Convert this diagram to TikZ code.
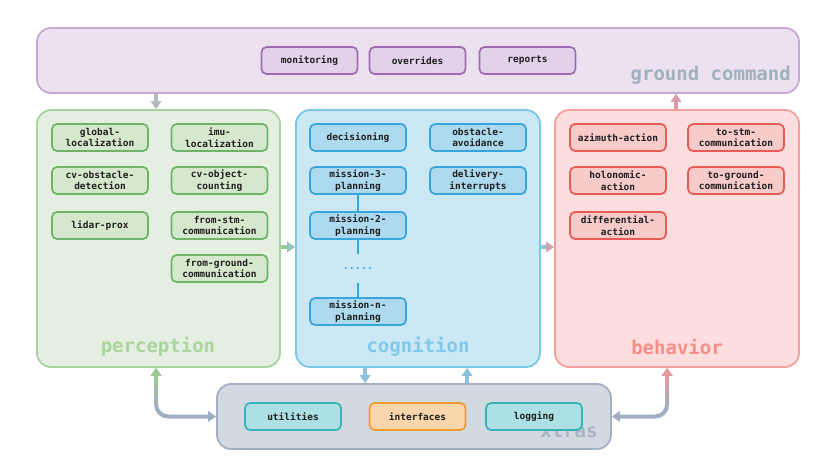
\documentclass[tikz,border=0pt]{standalone}
\usepackage{fontspec}
\newfontfamily\monof{DejaVu Sans Mono Bold}
\usetikzlibrary{arrows.meta,calc}
\definecolor{txt}{HTML}{1E1E1E}
\definecolor{gcfill}{HTML}{ECE2EF}\definecolor{gcdraw}{HTML}{C7A8D5}
\definecolor{gcifill}{HTML}{E2D2E9}\definecolor{gcidraw}{HTML}{9E6BB3}
\definecolor{gclab}{HTML}{A0B0BD}
\definecolor{pfill}{HTML}{E5EFE1}\definecolor{pdraw}{HTML}{A8D3A0}
\definecolor{pifill}{HTML}{D5E8CE}\definecolor{pidraw}{HTML}{6DB565}
\definecolor{plab}{HTML}{ABD59E}
\definecolor{cfill}{HTML}{CCE8F4}\definecolor{cdraw}{HTML}{7AC6EA}
\definecolor{cifill}{HTML}{AEDAEF}\definecolor{cidraw}{HTML}{38A5DC}
\definecolor{clab}{HTML}{80C9EC}
\definecolor{bfill}{HTML}{FBDEDD}\definecolor{bdraw}{HTML}{F2A09C}
\definecolor{bifill}{HTML}{F7CBC9}\definecolor{bidraw}{HTML}{E85A54}
\definecolor{blab}{HTML}{F38F88}
\definecolor{xfill}{HTML}{D1D9E1}\definecolor{xdraw}{HTML}{A3B1C2}
\definecolor{xlab}{HTML}{A9B5C4}
\definecolor{tfill}{HTML}{ADE0E4}\definecolor{tdraw}{HTML}{38B1B7}
\definecolor{ofill}{HTML}{FAD6AD}\definecolor{odraw}{HTML}{F39A2F}
\definecolor{agray}{HTML}{A0B0C2}
\definecolor{agreen}{HTML}{9CCB92}
\definecolor{apink}{HTML}{E89A9E}
\definecolor{ablue}{HTML}{8CC2DA}
\definecolor{atop}{HTML}{B4B9BF}
\definecolor{abeh}{HTML}{D89AA6}
\tikzset{mytip/.tip={Triangle[width=10.5pt,length=8pt]}}
\begin{document}
\begin{tikzpicture}[x=1pt,y=-1pt,
  panel/.style={draw, rounded corners=14pt, line width=1.8pt, inner sep=0pt},
  item/.style={draw, rounded corners=5pt, line width=1.7pt, minimum width=96pt,
    minimum height=27pt, inner sep=0pt, align=center, text=txt,
    font=\monof\fontsize{9.5}{11.5}\selectfont},
  gcitem/.style={item, fill=gcifill, draw=gcidraw},
  pitem/.style={item, fill=pifill, draw=pidraw},
  citem/.style={item, fill=cifill, draw=cidraw},
  bitem/.style={item, fill=bifill, draw=bidraw},
  titem/.style={item, fill=tfill, draw=tdraw},
  oitem/.style={item, fill=ofill, draw=odraw},
  plabel/.style={font=\monof\fontsize{19}{19}\selectfont, inner sep=0pt},
  flow/.style={line width=4pt, -{mytip}},
  biflow/.style={line width=4pt, {mytip}-{mytip}, rounded corners=12pt},
  link/.style={draw=cidraw, line width=1.7pt}
]
\useasboundingbox (0,0) rectangle (829,472);
\fill[white] (0,0) rectangle (829,472);

% panels
\node[panel, fill=gcfill, draw=gcdraw, minimum width=762pt, minimum height=65pt] (gc) at (418,60.5) {};
\node[panel, fill=pfill, draw=pdraw, minimum width=243pt, minimum height=257pt] (perc) at (158.5,238.5) {};
\node[panel, fill=cfill, draw=cdraw, minimum width=244pt, minimum height=257pt] (cog) at (418,238.5) {};
\node[panel, fill=bfill, draw=bdraw, minimum width=244pt, minimum height=257pt] (beh) at (677,238.5) {};
\node[panel, fill=xfill, draw=xdraw, minimum width=394pt, minimum height=65pt] (xtras) at (414,416.5) {};

% panel labels
\node[plabel, text=gclab, anchor=east] (gclabel) at (791,75) {ground command};
\node[plabel, text=plab] (plabel1) at (158,347) {perception};
\node[plabel, text=clab] (clabel1) at (418,347) {cognition};
\node[plabel, text=blab] (blabel1) at (677,347) {behavior};
\node[plabel, text=xlab] (xlabel1) at (569,431) {xtras};

% ground command items
\node[gcitem] (mon) at (309.5,60.5) {monitoring};
\node[gcitem] (ovr) at (417.5,60.5) {overrides};
\node[gcitem] (rep) at (527.5,60.5) {reports};

% perception items
\node[pitem] (gloc) at (100,137.5) {global-\\localization};
\node[pitem] (iloc) at (219.5,137.5) {imu-\\localization};
\node[pitem] (cvod) at (100,180.5) {cv-obstacle-\\detection};
\node[pitem] (cvoc) at (219.5,180.5) {cv-object-\\counting};
\node[pitem] (lid) at (100,225.5) {lidar-prox};
\node[pitem] (fstm) at (219.5,225.5) {from-stm-\\communication};
\node[pitem] (fgnd) at (219.5,268.5) {from-ground-\\communication};

% cognition items
\node[citem] (dec) at (358,137.5) {decisioning};
\node[citem] (oav) at (478,137.5) {obstacle-\\avoidance};
\node[citem] (m3) at (358,180.5) {mission-3-\\planning};
\node[citem] (dint) at (478,180.5) {delivery-\\interrupts};
\node[citem] (m2) at (358,225.5) {mission-2-\\planning};
\node[text=cidraw, inner sep=0pt, minimum height=29pt, font=\monof\fontsize{10}{11}\selectfont] (dots) at (358,268.5) {.....};
\node[citem] (mn) at (358,311.5) {mission-n-\\planning};
\draw[link] (m3.south) -- (m2.north);
\draw[link] (m2.south) -- (dots.north);
\draw[link] (dots.south) -- (mn.north);

% behavior items
\node[bitem] (azi) at (618,137.5) {azimuth-action};
\node[bitem] (tstm) at (736,137.5) {to-stm-\\communication};
\node[bitem] (hol) at (618,180.5) {holonomic-\\action};
\node[bitem] (tgnd) at (736,180.5) {to-ground-\\communication};
\node[bitem] (dif) at (618,225.5) {differential-\\action};

% xtras items
\node[titem] (util) at (293,416.5) {utilities};
\node[oitem] (intf) at (417.5,416.5) {interfaces};
\node[titem] (logg) at (534,416.5) {logging};

% vertical arrows top
\draw[flow, atop] ([xshift=120pt]gc.south west) -- ([xshift=120pt]perc.north west);
\draw[flow, abeh] ([xshift=122pt]beh.north west) -- ([xshift=640pt]gc.south west);

% horizontal arrows between panels
\draw[flow, ablue!60!agreen] ([yshift=-8.5pt]perc.east) -- ([yshift=-8.5pt]cog.west);
\draw[line width=4pt, agreen] ([yshift=-8.5pt]perc.east) -- ++(5,0);
\draw[flow, apink!70!agray] ([yshift=-8.5pt]cog.east) -- ([yshift=-8.5pt]beh.west);
\draw[line width=4pt, ablue] ([yshift=-8.5pt]cog.east) -- ++(5,0);

% cognition <-> xtras
\draw[flow, ablue] ([xshift=70pt]cog.south west) -- ([xshift=149pt]xtras.north west);
\draw[flow, ablue] ([xshift=251pt]xtras.north west) -- ([xshift=172pt]cog.south west);

% perception <-> xtras
\coordinate (pA) at ([xshift=120pt]perc.south west);
\draw[biflow, agray] (pA) |- (xtras.west);
\foreach \k [evaluate=\k as \p using int(100-10*\k)] in {0,...,9}
  \draw[line width=4pt, color=agreen!\p!agray] ($(pA)+(0,7+3*\k)$) -- ++(0,3.4);
\draw[flow, agreen] ($(pA)+(0,10)$) -- (pA);

% behavior <-> xtras
\coordinate (bB) at ([xshift=113pt]beh.south west);
\draw[biflow, agray] (xtras.east) -| (bB);
\foreach \k [evaluate=\k as \p using int(100-10*\k)] in {0,...,9}
  \draw[line width=4pt, color=apink!\p!agray] ($(bB)+(0,7+3*\k)$) -- ++(0,3.4);
\draw[flow, apink] ($(bB)+(0,10)$) -- (bB);
\end{tikzpicture}
\end{document}
